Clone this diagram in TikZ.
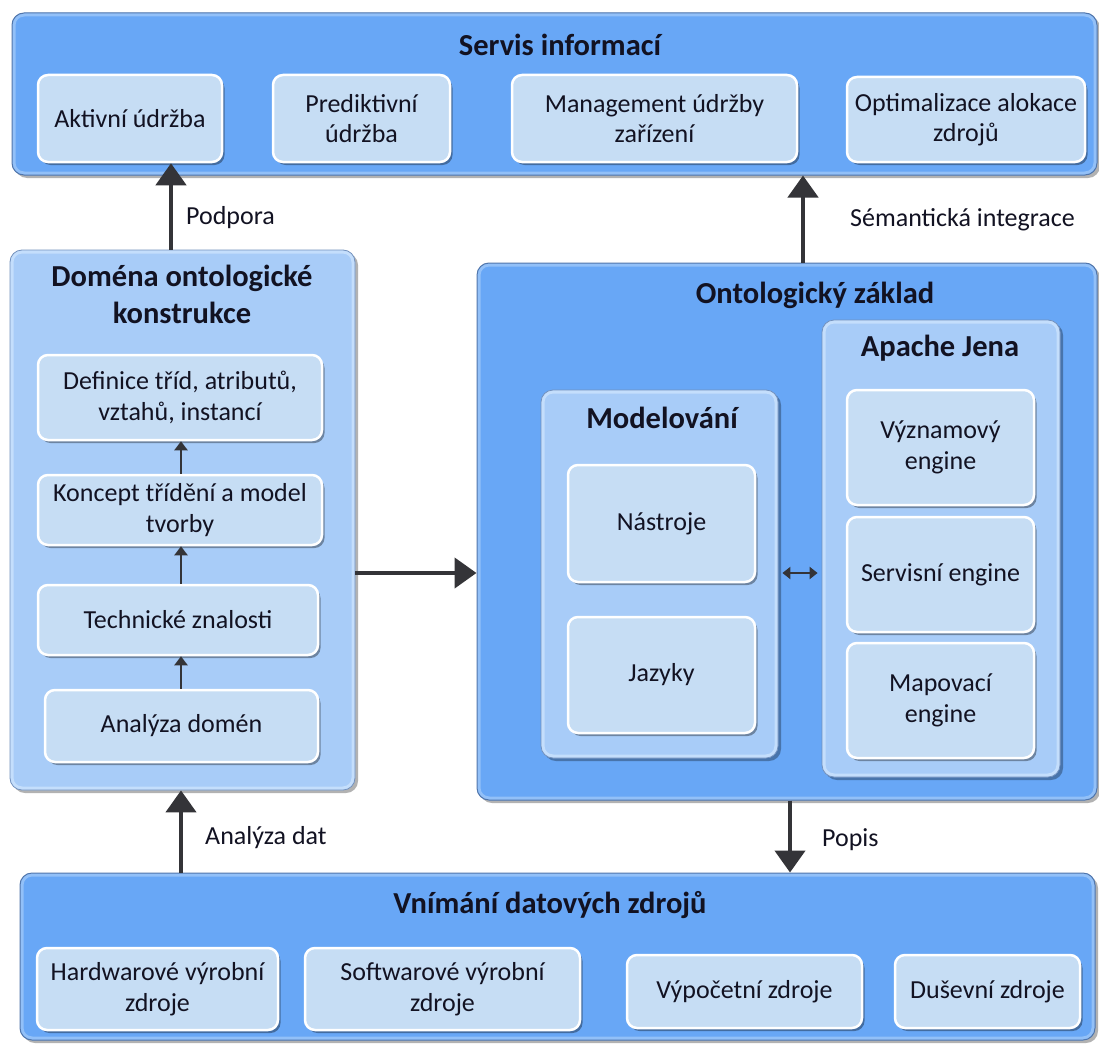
\documentclass[tikz,border=0pt]{standalone}
\usepackage{fontspec}
\setmainfont{Carlito}
\usetikzlibrary{shadows,arrows.meta}

\definecolor{outerblue}{RGB}{104,167,246}
\definecolor{subblue}{RGB}{168,204,248}
\definecolor{itemfill}{RGB}{198,221,244}
\definecolor{edgeblue}{RGB}{80,118,172}
\definecolor{rimblue}{RGB}{146,192,248}
\definecolor{subrim}{RGB}{196,222,252}
\definecolor{inkdark}{RGB}{18,18,34}
\definecolor{arrowgray}{RGB}{52,52,56}

\tikzset{
  panel/.style={rounded corners=12pt, fill=outerblue, draw=edgeblue, line width=1pt,
    inner sep=0pt,
    drop shadow={shadow xshift=3pt, shadow yshift=-3pt, fill=black, opacity=0.3},
    path picture={\draw[rimblue, line width=7pt, rounded corners=12pt]
      (path picture bounding box.south west) rectangle (path picture bounding box.north east);}},
  subpanel/.style={rounded corners=12pt, fill=subblue, draw=edgeblue!80, line width=0.8pt,
    inner sep=0pt,
    drop shadow={shadow xshift=3pt, shadow yshift=-3pt, fill=black, opacity=0.3},
    path picture={\draw[subrim, line width=7pt, rounded corners=12pt]
      (path picture bounding box.south west) rectangle (path picture bounding box.north east);}},
  item/.style={rounded corners=10pt, fill=itemfill, draw=white, line width=2.5pt,
    inner sep=0pt, align=center, text=inkdark, font=\fontsize{26}{30.5}\selectfont,
    drop shadow={shadow xshift=2.5pt, shadow yshift=-3pt, fill=black, opacity=0.35}},
  heading/.style={font=\fontsize{30.5}{37}\selectfont\bfseries, text=inkdark, align=center, inner sep=0pt},
  caption/.style={font=\fontsize{26}{30}\selectfont, text=inkdark, inner sep=0pt},
  bigarrow/.style={draw=arrowgray, line width=4.5pt, -{Triangle[length=22pt, width=30pt]}},
  smallarrow/.style={draw=arrowgray, line width=2pt, -{Triangle[length=9pt, width=13pt]}},
  twoway/.style={draw=arrowgray, line width=2pt, {Triangle[length=8pt, width=12pt]}-{Triangle[length=8pt, width=12pt]}},
}

\begin{document}
\begin{tikzpicture}[x=1pt, y=-1pt]
\useasboundingbox (0,0) rectangle (1099,1046);
\fill[white] (0,0) rectangle (1099,1046);

% --- Servis informací ---
\node[panel, minimum width=1085pt, minimum height=162pt] (servis) at (554.5,94) {};
\node[heading] (tservis) at (560,45) {Servis informací};
\node[item, minimum width=184pt, minimum height=87pt] (akt) at (130,118.5) {Aktivní údržba};
\node[item, minimum width=177pt, minimum height=87pt] (pred) at (361.5,118.5) {Prediktivní\\údržba};
\node[item, minimum width=285pt, minimum height=87pt] (mgmt) at (654.5,118.5) {Management údržby\\zařízení};
\node[item, minimum width=238pt, minimum height=85pt] (opt) at (966,119.5) {Optimalizace alokace\\zdrojů};

% --- Doména ontologické konstrukce ---
\node[subpanel, minimum width=345pt, minimum height=540pt] (dom) at (182.5,520) {};
\node[heading] (tdom) at (182,294) {Doména ontologické\\konstrukce};
\node[item, minimum width=284pt, minimum height=85pt] (def) at (180,397.5) {Definice tříd, atributů,\\vztahů, instancí};
\node[item, minimum width=284pt, minimum height=70pt] (kon) at (180,510) {Koncept třídění a model\\tvorby};
\node[item, minimum width=280pt, minimum height=70pt] (tech) at (178,620) {Technické znalosti};
\node[item, minimum width=273pt, minimum height=72pt] (ana) at (181.5,726) {Analýza domén};

% --- Ontologický základ ---
\node[panel, minimum width=620pt, minimum height=537pt] (ont) at (787,531.5) {};
\node[heading] (tont) at (815,295) {Ontologický základ};

\node[subpanel, minimum width=237pt, minimum height=368pt] (mod) at (659.5,574) {};
\node[heading] (tmod) at (662,418) {Modelování};
\node[item, minimum width=187pt, minimum height=117pt] (nas) at (661.5,523.5) {Nástroje};
\node[item, minimum width=187pt, minimum height=116pt] (jaz) at (661.5,675) {Jazyky};

\node[subpanel, minimum width=238pt, minimum height=457pt] (jena) at (941,548.5) {};
\node[heading] (tjena) at (940,348) {Apache Jena};
\node[item, minimum width=187pt, minimum height=115pt] (vyz) at (940.5,447.5) {Významový\\engine};
\node[item, minimum width=187pt, minimum height=115pt] (ser) at (940.5,574.5) {Servisní engine};
\node[item, minimum width=187pt, minimum height=115pt] (map) at (940.5,700.5) {Mapovací\\engine};

% --- Vnímání datových zdrojů ---
\node[panel, minimum width=1075pt, minimum height=167pt] (vni) at (557.5,956.5) {};
\node[heading] (tvni) at (550,905) {Vnímání datových zdrojů};
\node[item, minimum width=241pt, minimum height=82pt] (hw) at (157.5,989) {Hardwarové výrobní\\zdroje};
\node[item, minimum width=275pt, minimum height=82pt] (sw) at (442.5,989) {Softwarové výrobní\\zdroje};
\node[item, minimum width=235pt, minimum height=73pt] (vyp) at (744.5,991.5) {Výpočetní zdroje};
\node[item, minimum width=185pt, minimum height=73pt] (dus) at (987.5,991.5) {Duševní zdroje};

% --- connectors ---
\draw[bigarrow] ([xshift=-11.5pt]dom.north) -- ([xshift=-11.5pt]dom.north |- akt.south);
\node[caption, anchor=west] (lpod) at (186,218) {Podpora};

\draw[bigarrow] ([xshift=16pt]ont.north) -- ([xshift=16pt]ont.north |- servis.south);
\node[caption, anchor=west] (lsem) at (850,220) {Sémantická integrace};

\draw[bigarrow] ([xshift=-1.5pt]vni.north -| dom.south) -- ([xshift=-1.5pt]dom.south);
\node[caption, anchor=west] (lana) at (205,838) {Analýza dat};

\draw[bigarrow] ([xshift=3pt]ont.south) -- ([xshift=3pt]ont.south |- vni.north);
\node[caption, anchor=west] (lpop) at (822,840) {Popis};

\draw[bigarrow] (dom.east |- 0,573) -- (ont.west |- 0,573);
\draw[twoway, shorten <=4pt, shorten >=4pt] (mod.east |- 0,573) -- (jena.west |- 0,573);

\draw[smallarrow] (ana.north -| 181,0) -- (tech.south -| 181,0);
\draw[smallarrow] (tech.north -| 181,0) -- (kon.south -| 181,0);
\draw[smallarrow] (kon.north -| 181,0) -- (def.south -| 181,0);
\end{tikzpicture}
\end{document}
